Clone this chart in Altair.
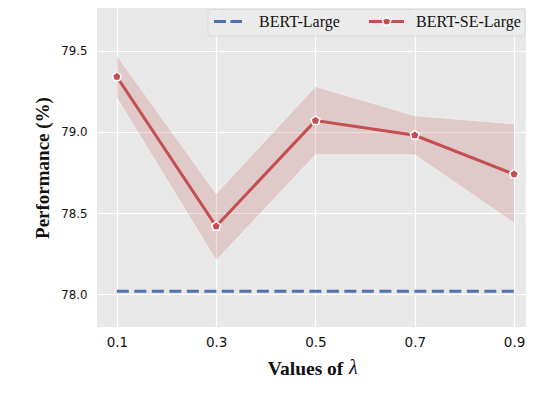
import altair as alt
import pandas as pd

# ---- data ----
lambdas = [0.1, 0.3, 0.5, 0.7, 0.9]
se_large = [79.34, 78.42, 79.07, 78.98, 78.74]
se_lower = [79.21, 78.21, 78.86, 78.86, 78.44]
se_upper = [79.47, 78.62, 79.28, 79.10, 79.05]
bert_large = [78.02, 78.02, 78.02, 78.02, 78.02]
x_ticks = [0.1, 0.3, 0.5, 0.7, 0.9]
y_ticks = [78.0, 78.5, 79.0, 79.5]
series_names = ["BERT-Large", "BERT-SE-Large"]

RED = "#c44e52"
BLUE = "#4c72b0"
PENTAGON = "M0,-1L0.951,-0.309L0.588,0.809L-0.588,0.809L-0.951,-0.309Z"

df = pd.DataFrame({
    "lam": lambdas,
    "se": se_large,
    "lo": se_lower,
    "hi": se_upper,
    "base": bert_large,
})

xscale = alt.Scale(domain=[0.06, 0.924], nice=False, zero=False)
yscale = alt.Scale(domain=[77.80, 79.763], nice=False, zero=False)

x_axis = alt.Axis(
    values=x_ticks, format=".1f", title="Values of",
    labelFontSize=13.5, labelPadding=8,
    titleFont="Liberation Serif", titleFontWeight="bold", titleFontSize=19.5,
    titleX=208, titleY=47, titleBaseline="alphabetic",
)
y_axis = alt.Axis(
    values=y_ticks, format=".1f", title="Performance (%)",
    labelFontSize=11.8, labelPadding=10,
    titleFont="Liberation Serif", titleFontWeight="bold", titleFontSize=19,
    titleAngle=270, titleAlign="center", titleBaseline="alphabetic",
    titleX=-49, titleY=159.5,
)

base = alt.Chart(df)

band = base.mark_area(color=RED, opacity=0.2).encode(
    x=alt.X("lam:Q", scale=xscale, axis=x_axis),
    y=alt.Y("lo:Q", scale=yscale, axis=y_axis),
    y2="hi:Q",
)
band_hi = base.mark_line(color="white", opacity=0.45, strokeWidth=1).encode(
    x=alt.X("lam:Q", scale=xscale), y=alt.Y("hi:Q", scale=yscale))
band_lo = base.mark_line(color="white", opacity=0.45, strokeWidth=1).encode(
    x=alt.X("lam:Q", scale=xscale), y=alt.Y("lo:Q", scale=yscale))

base_line = base.mark_line(color=BLUE, strokeWidth=3, strokeDash=[12, 5.5]).encode(
    x=alt.X("lam:Q", scale=xscale), y=alt.Y("base:Q", scale=yscale))

se_line = base.mark_line(color=RED, strokeWidth=3).encode(
    x=alt.X("lam:Q", scale=xscale), y=alt.Y("se:Q", scale=yscale))

se_pts = base.mark_point(
    shape=PENTAGON, filled=True, fill=RED, stroke="white", strokeWidth=1.5,
    size=90, opacity=1,
).encode(x=alt.X("lam:Q", scale=xscale), y=alt.Y("se:Q", scale=yscale))

# ---- italic lambda appended to the x-axis title ----
one = alt.Data(values=[{"k": 1}])
lam_sym = alt.Chart(one).mark_text(
    text="λ", font="Liberation Serif", fontStyle="italic", fontSize=20,
    align="left", baseline="alphabetic", color="#111111"
).encode(x=alt.value(252), y=alt.value(366))

# ---- legend drawn by hand ----
leg_frame = alt.Chart(one).mark_rect(
    fill="#ececec", stroke="#d9d9d9", strokeWidth=1, cornerRadius=3, opacity=0.9
).encode(x=alt.value(111), x2=alt.value(428), y=alt.value(1.5), y2=alt.value(28))
leg_blue = alt.Chart(one).mark_rule(color=BLUE, strokeWidth=3, strokeDash=[12, 4.5]).encode(
    x=alt.value(117), x2=alt.value(145), y=alt.value(13.5))
leg_red = alt.Chart(one).mark_rule(color=RED, strokeWidth=3).encode(
    x=alt.value(272), x2=alt.value(307), y=alt.value(13.5))
leg_pt = alt.Chart(one).mark_point(
    shape=PENTAGON, filled=True, fill=RED, stroke="white", strokeWidth=1.5, size=80, opacity=1
).encode(x=alt.value(289.7), y=alt.value(13.5))
leg_t1 = alt.Chart(one).mark_text(
    text=series_names[0], font="Liberation Serif", fontSize=16, align="left",
    baseline="alphabetic", color="#111111"
).encode(x=alt.value(162), y=alt.value(18.5))
leg_t2 = alt.Chart(one).mark_text(
    text=series_names[1], font="Liberation Serif", fontSize=16, align="left",
    baseline="alphabetic", color="#111111"
).encode(x=alt.value(319), y=alt.value(18.5))

chart = alt.layer(
    band, band_hi, band_lo, base_line, se_line, se_pts, lam_sym,
    leg_frame, leg_blue, leg_red, leg_pt, leg_t1, leg_t2,
).properties(
    width=429, height=319,
    autosize=alt.AutoSizeParams(type="none"),
    padding={"left": 89, "top": 0, "right": 0, "bottom": 60},
).configure_view(
    fill="#e8e8e8", stroke=None,
).configure_axis(
    domain=False, ticks=False, tickSize=0, grid=True, gridColor="white", gridWidth=1.2,
    labelFont="DejaVu Sans", labelColor="#111111",
    titleColor="#111111",
)

chart.save("out.html", embed_options={"renderer": "svg", "actions": False})
